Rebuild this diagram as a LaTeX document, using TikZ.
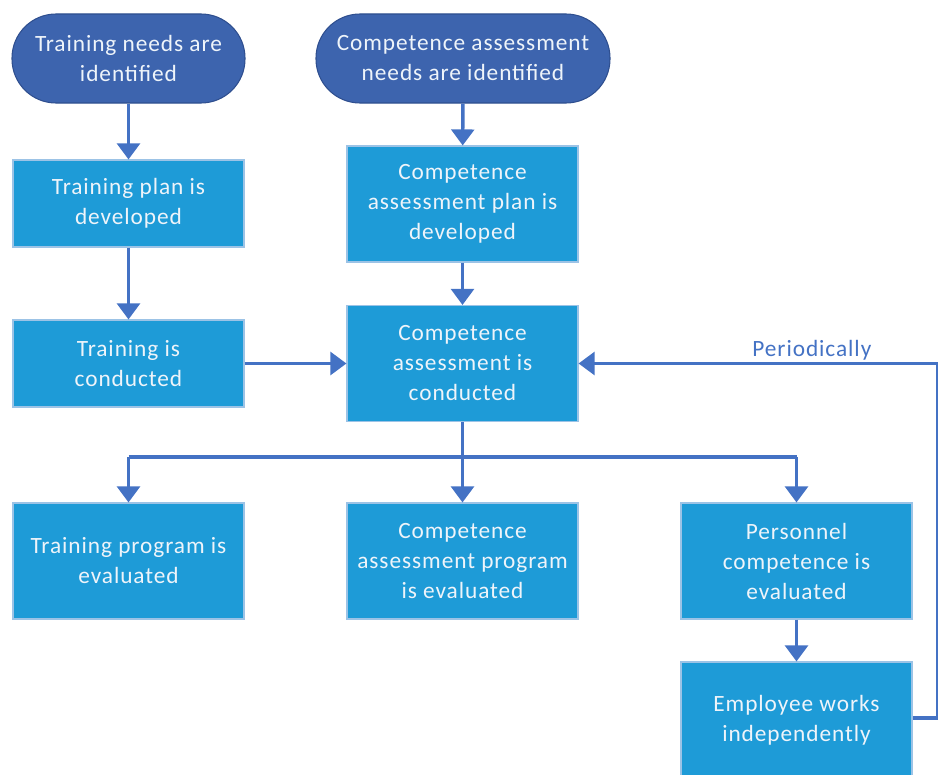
\documentclass[tikz,border=0pt]{standalone}
\usepackage{fontspec}
\setmainfont{Carlito}[LetterSpace=4]
\usetikzlibrary{arrows.meta}
\definecolor{pillblue}{HTML}{3D64AE}
\definecolor{pillborder}{HTML}{2F4F8F}
\definecolor{boxblue}{HTML}{1E9BD7}
\definecolor{boxborder}{HTML}{9CC3E6}
\definecolor{linkblue}{HTML}{4472C4}
\definecolor{txtwhite}{HTML}{EEF4FA}
\begin{document}
\begin{tikzpicture}[x=0.75pt,y=-0.75pt,
  every node/.style={font=\fontsize{17.5}{22.5}\selectfont, text=txtwhite, align=center, inner sep=0pt},
  pill/.style={draw=pillborder, line width=0.8pt, fill=pillblue, rounded corners=33pt, minimum height=66.75pt},
  procbox/.style={draw=boxborder, line width=0.8pt, fill=boxblue, minimum width=173.25pt},
  link/.style={draw=linkblue, line width=2.6pt, -{Triangle[length=12pt,width=17pt]}},
  plain/.style={draw=linkblue, line width=2.6pt}
]
\useasboundingbox (0,0) rectangle (938,774);
\clip (0,0) rectangle (938,774);
% nodes
\node[pill, minimum width=174.75pt] (tn) at (128.5,58.5) {Training needs are\\identified};
\node[pill, minimum width=220.5pt] (cn) at (463,58.5) {Competence assessment\\needs are identified};
\node[procbox, minimum height=65.25pt] (tp) at (128.5,203.5) {Training plan is\\developed};
\node[procbox, minimum height=87pt] (cp) at (462.5,204) {Competence\\assessment plan is\\developed};
\node[procbox, minimum height=65.25pt] (tc) at (128.5,363.5) {Training is\\conducted};
\node[procbox, minimum height=87pt] (cc) at (462.5,363.5) {Competence\\assessment is\\conducted};
\node[procbox, minimum height=87pt] (te) at (128.5,561) {Training program is\\evaluated};
\node[procbox, minimum height=87pt] (ce) at (462.5,561) {Competence\\assessment program\\is evaluated};
\node[procbox, minimum height=87pt] (pe) at (796.5,561) {Personnel\\competence is\\evaluated};
\node[procbox, minimum height=87pt] (ew) at (796.5,720) {Employee works\\independently};
\coordinate (br) at (462.5,457);
\coordinate (bl) at (128.5,457);
\coordinate (brr) at (796.5,457);
\coordinate (rt) at (937.5,363.5);
\coordinate (rb) at (937.5,718);
% connectors
\draw[link] (tn) -- (tp);
\draw[link] (tp) -- (tc);
\draw[link] (cn) -- (cp);
\draw[link] (cp) -- (cc);
\draw[link] (tc) -- (cc);
\draw[plain] (cc) -- (br);
\draw[plain] (bl) -- (brr);
\draw[link] (bl) -- (te);
\draw[link] (br) -- (ce);
\draw[link] (brr) -- (pe);
\draw[link] (pe) -- (ew);
\draw[plain] (ew.east |- rb) -- (rb) -- (rt);
\draw[link] (rt) -- (cc.east) node[pos=0.35, above=1.5pt, text=linkblue] (per) {Periodically};
\end{tikzpicture}
\end{document}
